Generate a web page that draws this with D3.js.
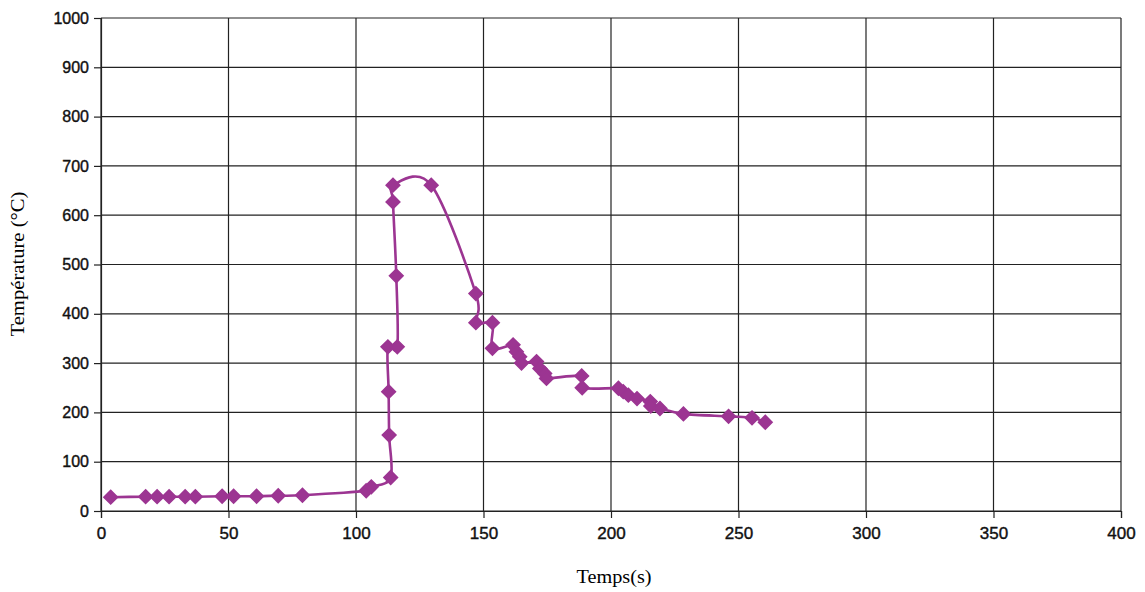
<!DOCTYPE html>
<html><head><meta charset="utf-8">
<script src="https://cdn.jsdelivr.net/npm/d3@7"></script>
<style>body{margin:0;background:#fff}svg{display:block}</style>
</head><body>
<svg id="c" width="1145" height="592"></svg>
<script>
const times = [3.8,17.5,22,26.7,33,37,47.5,52,61,69.5,79,104,106,113.6,113,112.8,112.5,116.2,115.8,114.5,114.5,129.5,147,147,153.5,153.5,161.6,162.9,164.2,164.9,170.8,172.1,174,174.7,188.5,188.7,202.9,204.8,206.8,210.2,215.4,215.6,219.2,228.4,246.1,255.3,260.5];
const temps = [28,29,29,29,29,29,30,30,30,31,32,41,49,68,154,242,333,333,477,627,661,661,441,382,382,330,337,323,313,300,303,289,279,269,274,250,249,242,235,228,222,213,208,197,192,189,180];
const xTicks = [0,50,100,150,200,250,300,350,400];
const yTicks = [0,100,200,300,400,500,600,700,800,900,1000];
const xTitle = "Temps(s)";
const yTitle = "Température (°C)";

const svg = d3.select("#c");
const L=101,R=1121,T=18,B=511;
const x = d3.scaleLinear().domain([0,400]).range([L,R]);
const y = d3.scaleLinear().domain([0,1000]).range([B,T]);
const data = times.map((t,i)=>({t,v:temps[i]}));

// grid
svg.append("g").selectAll("line").data(yTicks).join("line")
  .attr("x1",L).attr("x2",R).attr("y1",d=>y(d)).attr("y2",d=>y(d))
  .attr("stroke","#222").attr("stroke-width",1.2);
svg.append("g").selectAll("line").data(xTicks).join("line")
  .attr("y1",T).attr("y2",B).attr("x1",d=>x(d)).attr("x2",d=>x(d))
  .attr("stroke","#222").attr("stroke-width",1.2);

const xa = svg.append("g").attr("transform",`translate(0,${B})`)
  .call(d3.axisBottom(x).tickValues(xTicks).tickSize(7).tickPadding(9).tickFormat(d3.format("d")));
const ya = svg.append("g").attr("transform",`translate(${L},0)`)
  .call(d3.axisLeft(y).tickValues(yTicks).tickSize(7).tickPadding(5).tickFormat(d3.format("d")));
[xa,ya].forEach(a=>{
  a.selectAll("path,line").attr("stroke","#222").attr("stroke-width",1.2);
  a.selectAll("text").attr("font-family","Liberation Sans, Arial, sans-serif")
   .attr("font-size",16).attr("fill","#111").attr("stroke","#111").attr("stroke-width",0.4);
});
xa.selectAll("text").attr("font-size",17);

svg.append("path").datum(data)
  .attr("fill","none").attr("stroke","#9c3592").attr("stroke-width",2.6)
  .attr("d",d3.line().x(d=>x(d.t)).y(d=>y(d.v)).curve(d3.curveCardinal.tension(0)));

svg.append("g").selectAll("path").data(data).join("path")
  .attr("transform",d=>`translate(${x(d.t)},${y(d.v)})`)
  .attr("d",d3.symbol(d3.symbolDiamond2,120))
  .attr("fill","#9c3592").attr("stroke","#9c3592").attr("stroke-width",1.5);

svg.append("text").attr("x",614).attr("y",583).attr("text-anchor","middle")
  .attr("font-family","Liberation Serif, Times New Roman, serif").attr("font-size",18)
  .attr("textLength",75).attr("lengthAdjust","spacingAndGlyphs").text(xTitle);
svg.append("text").attr("transform",`translate(24,264) rotate(-90)`).attr("text-anchor","middle")
  .attr("font-family","Liberation Serif, Times New Roman, serif").attr("font-size",18)
  .attr("textLength",145).attr("lengthAdjust","spacingAndGlyphs").text(yTitle);
</script>
</body></html>
